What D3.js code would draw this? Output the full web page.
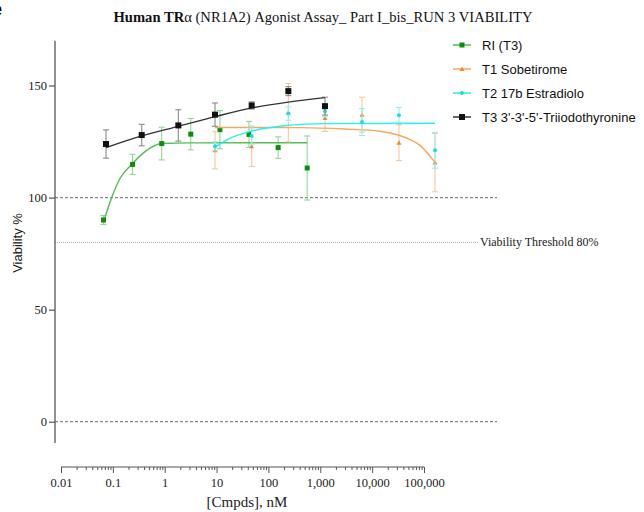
<!DOCTYPE html>
<html><head><meta charset="utf-8">
<script src="https://cdn.jsdelivr.net/npm/d3@7"></script>
<style>body{margin:0;background:#fff}svg{display:block}</style>
</head><body>
<svg id="c" width="644" height="512"></svg>
<script>
// ---- data ----
const seriesNames = ["RI (T3)", "T1 Sobetirome", "T2 17b Estradiolo", "T3 3'-3'-5'-Triiodothyronine"];
// RI (T3)
const riX   = [0.066, 0.24, 0.875, 3.18, 11.6, 42.2, 154, 559];
const riY   = [90.0, 114.8, 124.1, 128.3, 130.3, 128.2, 122.3, 113.2];
const riErr = [2.0, 4.5, 7.3, 7.0, 8.5, 5.8, 4.8, 14.3];
const riFitX = [0.066, 0.095, 0.137, 0.238, 0.417, 0.875, 3.18, 559];
const riFitY = [89.0, 100.0, 108.5, 115.1, 120.5, 124.1, 124.4, 124.5];
// T1 Sobetirome
const t1X   = [9.33, 47.5, 242, 1233, 6370, 32900, 163000];
const t1Y   = [121.1, 122.9, 137.9, 135.5, 137.0, 124.5, 115.6];
const t1Err = [8.3, 9.0, 13.0, 6.0, 7.8, 8.0, 13.0];
const t1FitX = [9.33, 406, 2990, 14160, 32900, 53700, 83600, 163000];
const t1FitY = [131.3, 131.2, 130.6, 129.6, 127.8, 125.9, 123.3, 115.7];
// T2 17b Estradiolo
const t2X   = [9.33, 47.5, 242, 1233, 6370, 32900, 163000];
const t2Y   = [122.9, 127.5, 137.5, 138.5, 133.7, 136.7, 121.1];
const t2Err = [2.0, 4.0, 3.0, 2.5, 6.0, 3.5, 8.0];
const t2FitX = [9.33, 18.2, 44.1, 167, 1233, 163000];
const t2FitY = [122.5, 126.5, 129.5, 131.8, 133.0, 133.2];
// T3 3'-3'-5'-Triiodothyronine
const t3X   = [0.0738, 0.36, 1.83, 9.33, 47.5, 242, 1233];
const t3Y   = [123.9, 127.9, 132.2, 137.0, 141.1, 147.5, 140.8];
const t3Err = [6.3, 4.8, 7.0, 5.2, 1.6, 2.0, 4.0];
const t3FitX = [0.0738, 0.36, 1.83, 9.33, 47.5, 242, 1233];
const t3FitY = [122.3, 127.5, 131.8, 136.1, 140.0, 142.6, 144.6];

const yTicks = [0, 50, 100, 150];
const xTicks = [0.01, 0.1, 1, 10, 100, 1000, 10000, 100000];
const xTickLabels = ["0.01", "0.1", "1", "10", "100", "1,000", "10,000", "100,000"];
const refLines = [100, 0];
const threshold = 80;

// ---- drawing ----
const svg = d3.select("#c");
const x = d3.scaleLog().domain([0.01, 100000]).range([61, 424]);
const y = d3.scaleLinear().domain([-9.5, 170]).range([443, 40.7]);
const serif = "'Liberation Serif','Times New Roman',serif";
const sans = "'Liberation Sans',Arial,Helvetica,sans-serif";

// panel letter (cropped in the reference)
svg.append("text").attr("x", -9).attr("y", 16).attr("font-family", sans)
  .attr("font-weight", "bold").attr("font-size", 20).text("e");

// title
const title = svg.append("text").attr("x", 323).attr("y", 22).attr("text-anchor", "middle")
  .attr("font-family", serif).attr("font-size", 14.6).attr("fill", "#111");
title.append("tspan").attr("font-weight", "bold").text("Human TR");
title.append("tspan").text("α (NR1A2) Agonist Assay_ Part I_bis_RUN 3 VIABILITY");

// reference lines
svg.selectAll("line.ref").data(refLines).join("line").attr("class", "ref")
  .attr("x1", 55).attr("x2", 497).attr("y1", d => y(d)).attr("y2", d => y(d))
  .attr("stroke", "#888").attr("stroke-width", 1.3).attr("stroke-dasharray", "3,2");
svg.append("line").attr("x1", 55).attr("x2", 479).attr("y1", y(threshold)).attr("y2", y(threshold))
  .attr("stroke", "#aaa").attr("stroke-width", 1).attr("stroke-dasharray", "1,1");
svg.append("text").attr("x", 480).attr("y", y(threshold) + 4).attr("font-family", serif)
  .attr("font-size", 12).attr("fill", "#222").text("Viability Threshold 80%");

// y axis
const yAxis = d3.axisLeft(y).tickValues(yTicks).tickSize(6).tickPadding(2).tickFormat(d3.format("d"));
const gy = svg.append("g").attr("transform", "translate(55,0)").call(yAxis);
gy.select(".domain").attr("d", `M0,${y.range()[0]}V${y.range()[1]}`).attr("stroke", "#555").attr("stroke-width", 1.3);
gy.selectAll(".tick line").attr("stroke", "#555").attr("stroke-width", 1.2);
gy.selectAll(".tick text").attr("font-family", serif).attr("font-size", 12.5).attr("fill", "#222");

// x axis
const minor = [];
for (let e = -2; e < 5; e++) for (let k = 2; k < 10; k++) minor.push(k * Math.pow(10, e));
const gx = svg.append("g").attr("transform", "translate(0,467)");
gx.call(d3.axisBottom(x).tickValues(minor).tickSize(3).tickFormat(""));
gx.call(g => g.select(".domain").remove());
gx.selectAll(".tick line").attr("stroke", "#555");
const gx2 = svg.append("g").attr("transform", "translate(0,467)");
gx2.call(d3.axisBottom(x).tickValues(xTicks).tickSize(6).tickPadding(5)
  .tickFormat((d, i) => xTickLabels[i]).tickSizeOuter(0));
gx2.select(".domain").attr("d", `M${x.range()[0]},0H${x.range()[1]}`).attr("stroke", "#555").attr("stroke-width", 1.2);
gx2.selectAll(".tick line").attr("stroke", "#555");
gx2.selectAll(".tick text").attr("font-family", serif).attr("font-size", 12.5).attr("fill", "#222");

// axis titles
svg.append("text").attr("transform", "translate(22,243) rotate(-90)").attr("text-anchor", "middle")
  .attr("font-family", sans).attr("font-size", 13).attr("fill", "#222").text("Viability %");
svg.append("text").attr("x", 247).attr("y", 507).attr("text-anchor", "middle")
  .attr("font-family", serif).attr("font-size", 15).attr("fill", "#222").text("[Cmpds], nM");

// series
const series = [
  {name: seriesNames[0], xs: riX, ys: riY, es: riErr, fx: riFitX, fy: riFitY, line: "#55bb55", pt: "#0b8f0b", err: "#95d495", shape: "square", size: 5},
  {name: seriesNames[1], xs: t1X, ys: t1Y, es: t1Err, fx: t1FitX, fy: t1FitY, line: "#f5a85f", pt: "#f08a2a", err: "#f8c79a", shape: "triangle", size: 4},
  {name: seriesNames[2], xs: t2X, ys: t2Y, es: t2Err, fx: t2FitX, fy: t2FitY, line: "#22f2f2", pt: "#1ddede", err: "#8ef3f3", shape: "circle", size: 4},
  {name: seriesNames[3], xs: t3X, ys: t3Y, es: t3Err, fx: t3FitX, fy: t3FitY, line: "#333", pt: "#111", err: "#8a8a8a", shape: "square", size: 6}
];
const line = d3.line().x(d => x(d[0])).y(d => y(d[1])).curve(d3.curveMonotoneX);

function marker(g, s, cx, cy) {
  if (s.shape === "square") {
    g.append("rect").attr("x", cx - s.size / 2).attr("y", cy - s.size / 2)
      .attr("width", s.size).attr("height", s.size).attr("fill", s.pt);
  } else if (s.shape === "triangle") {
    const h = s.size;
    g.append("path").attr("d", `M${cx},${cy - h / 2 - 0.5}L${cx + h / 2 + 0.5},${cy + h / 2}L${cx - h / 2 - 0.5},${cy + h / 2}Z`).attr("fill", s.pt);
  } else {
    g.append("circle").attr("cx", cx).attr("cy", cy).attr("r", s.size / 2).attr("fill", s.pt);
  }
}

series.forEach(s => {
  const g = svg.append("g");
  s.xs.forEach((xv, i) => {
    const cx = x(xv), y1 = y(s.ys[i] + s.es[i]), y2 = y(s.ys[i] - s.es[i]);
    g.append("line").attr("x1", cx).attr("x2", cx).attr("y1", y1).attr("y2", y2).attr("stroke", s.err).attr("stroke-width", 1.1);
    [y1, y2].forEach(yy => g.append("line").attr("x1", cx - 3).attr("x2", cx + 3).attr("y1", yy).attr("y2", yy)
      .attr("stroke", s.err).attr("stroke-width", 1.1));
  });
  g.append("path").datum(s.fx.map((v, i) => [v, s.fy[i]])).attr("d", line)
    .attr("fill", "none").attr("stroke", s.line).attr("stroke-width", s === undefined ? 1.5 : 1.4);
  s.xs.forEach((xv, i) => marker(g, s, x(xv), y(s.ys[i])));
});

// legend
const legY = [45, 69, 93, 117];
series.forEach((s, i) => {
  const g = svg.append("g");
  g.append("line").attr("x1", 453).attr("x2", 471).attr("y1", legY[i]).attr("y2", legY[i]).attr("stroke", s.line).attr("stroke-width", 1.5);
  marker(g, s, 462, legY[i]);
  g.append("text").attr("x", 482).attr("y", legY[i] + 5).attr("font-family", sans).attr("font-size", 13)
    .attr("fill", "#111").text(s.name);
});
</script>
</body></html>
